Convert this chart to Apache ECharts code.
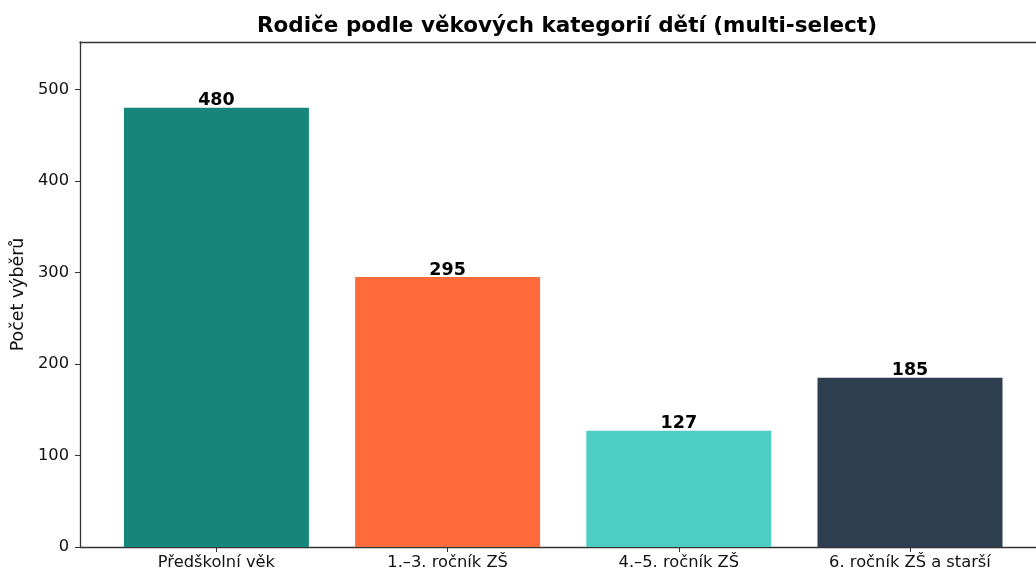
<!DOCTYPE html>
<html>
<head>
<meta charset="utf-8">
<script src="https://cdn.jsdelivr.net/npm/echarts@6/dist/echarts.min.js"></script>
<style>
  html, body { margin: 0; padding: 0; background: #fff; }
  #chart { width: 1036px; height: 575px; }
</style>
</head>
<body>
<div id="chart"></div>
<script>
// data
const categories = ['Předškolní věk', '1.–3. ročník ZŠ', '4.–5. ročník ZŠ', '6. ročník ZŠ a starší']
const counts = [480, 295, 127, 185]
const barColors = ['#16867a', '#ff6b3b', '#4ecdc4', '#2c3e50']
const yTicks = [0, 100, 200, 300, 400, 500]
const xTicks = [0, 1, 2, 3]

const chart = echarts.init(document.getElementById('chart'), null, { renderer: 'canvas' })
const font = 'DejaVu Sans'
const spine = { show: true, onZero: false, lineStyle: { color: '#333', width: 1.3 } }

chart.setOption({
  animation: false,
  title: {
    text: 'Rodiče podle věkových kategorií dětí (multi-select)',
    left: 252,
    top: 10,
    textStyle: { fontFamily: font, fontSize: 21.5, fontWeight: 'bold', color: '#000' }
  },
  grid: {
    left: 80,
    right: 0,
    top: 42,
    bottom: 28
  },
  xAxis: [
    {
      type: 'value',
      min: -0.59,
      max: 3.545,
      splitLine: { show: false },
      axisLine: spine,
      axisTick: { show: true, length: 5, customValues: xTicks, lineStyle: { color: '#333' } },
      axisLabel: {
        fontFamily: font, fontSize: 16.3, color: '#111', margin: 8,
        customValues: xTicks,
        formatter: v => categories[v]
      }
    },
    {
      // top spine only
      type: 'value',
      position: 'top',
      min: -0.59,
      max: 3.545,
      splitLine: { show: false },
      axisLine: spine,
      axisTick: { show: false },
      axisLabel: { show: false }
    }
  ],
  yAxis: {
    type: 'value',
    min: 0,
    max: 552,
    interval: 100,
    name: 'Počet výběrů',
    nameLocation: 'middle',
    nameGap: 53,
    nameTextStyle: { fontFamily: font, fontSize: 17.4, color: '#111' },
    splitLine: { show: false },
    axisLine: spine,
    axisTick: { show: true, length: 5, customValues: yTicks, lineStyle: { color: '#333' } },
    axisLabel: { fontFamily: font, fontSize: 16.3, color: '#111', margin: 11, customValues: yTicks }
  },
  series: [
    {
      type: 'bar',
      barWidth: 185,
      z: 1,
      data: counts.map((v, i) => ({ value: [xTicks[i], v], itemStyle: { color: barColors[i] } })),
      label: {
        show: true,
        position: 'top',
        distance: -2,
        fontFamily: font,
        fontSize: 17.5,
        fontWeight: 'bold',
        color: '#000',
        formatter: p => p.value[1]
      }
    }
  ]
})
</script>
</body>
</html>
